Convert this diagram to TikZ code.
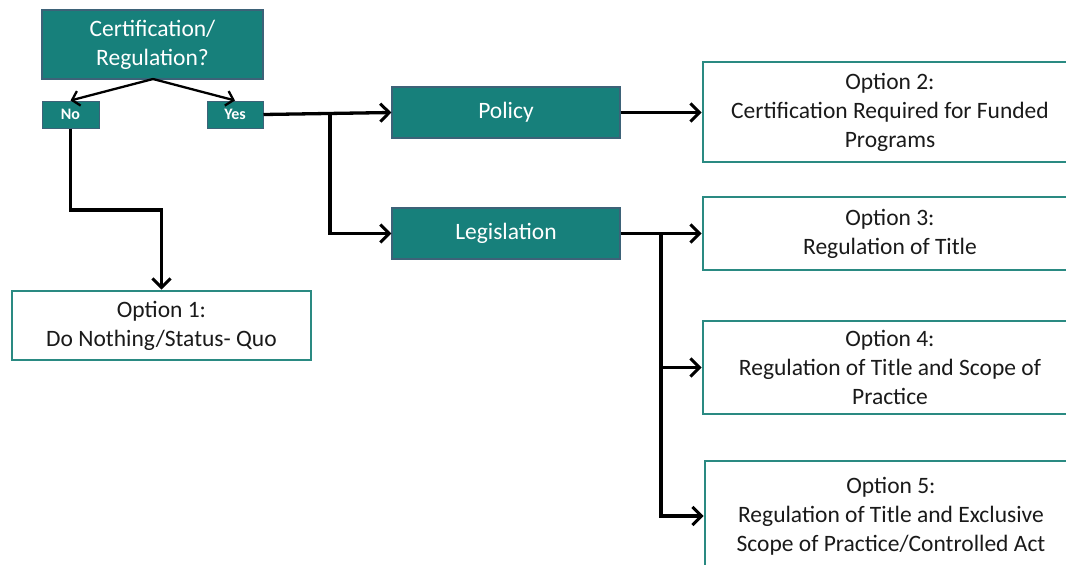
\documentclass[tikz,border=0pt]{standalone}
\usepackage{fontspec}
\setmainfont{Carlito}
\usetikzlibrary{arrows.meta}
\definecolor{teal1}{HTML}{17807B}
\definecolor{tealedge}{HTML}{3D6278}
\definecolor{optedge}{HTML}{2A8A82}
\definecolor{txt}{HTML}{1A1A1A}
\tikzset{
  darkbox/.style={draw=tealedge, line width=1.2pt, fill=teal1, text=white, align=center, inner sep=0pt, font=\fontsize{23.5}{29}\selectfont},
  smallbox/.style={draw=tealedge, line width=1pt, fill=teal1, text=white, inner sep=0pt, font=\fontsize{16}{18}\selectfont\bfseries},
  optbox/.style={draw=optedge, line width=2.8pt, fill=white, text=txt, align=center, inner sep=0pt, font=\fontsize{23.5}{29}\selectfont},
  conn/.style={line width=3.3pt, black},
  arr/.style={conn, -{Straight Barb[length=9pt,width=18pt,line width=3pt]}},
  thinarr/.style={line width=2.3pt, black, -{Straight Barb[length=7pt,width=15pt,line width=2.3pt]}}
}
\begin{document}
\begin{tikzpicture}[x=1pt,y=-1pt]
\useasboundingbox[fill=white] (0,0) rectangle (1066,565);
\begin{scope}
\clip (0,0) rectangle (1066,565);
\node[darkbox, minimum width=221pt, minimum height=69pt] (q) at (152.5,44.5) {Certification/\\Regulation?};
\node[smallbox, minimum width=57pt, minimum height=27pt] (no) at (70.5,114.5) {No};
\node[smallbox, minimum width=56pt, minimum height=27pt] (yes) at (235,114.5) {Yes};
\node[darkbox, minimum width=228pt, minimum height=51pt] (policy) at (506,112.5) {Policy};
\node[darkbox, minimum width=228pt, minimum height=51pt] (legis) at (506,233.5) {Legislation};
\node[optbox, minimum width=374pt, minimum height=100pt] (o2) at (890,112) {Option 2:\\Certification Required for Funded\\Programs};
\node[optbox, minimum width=374pt, minimum height=73pt] (o3) at (890,233.5) {Option 3:\\Regulation of Title};
\node[optbox, minimum width=374pt, minimum height=93pt] (o4) at (890,367.5) {Option 4:\\Regulation of Title and Scope of\\Practice};
\node[optbox, minimum width=372pt, minimum height=110pt] (o5) at (891,516) {Option 5:\\Regulation of Title and Exclusive\\Scope of Practice/Controlled Act};
\node[optbox, minimum width=299pt, minimum height=69pt] (o1) at (161.5,325.5) {Option 1:\\Do Nothing/Status- Quo};

\coordinate (apex) at (153,79);
\draw[thinarr] (apex) -- (no.north);
\draw[thinarr] (apex) -- (yes.north);

\coordinate (nb) at (72,210);
\draw[arr] (no.south) |- (nb) -| (o1.north);

\coordinate (j1) at (330,114.5);
\draw[arr] (yes.east) -- (policy.west);
\draw[arr] (j1) |- (legis.west);
\draw[arr] (policy.east) -- (o2.west |- policy.east);
\draw[arr] (legis.east) -- (o3.west);
\coordinate (j2) at (661,233.5);
\draw[arr] (j2) |- (o4.west);
\draw[arr] (j2) |- (o5.west);
\end{scope}
\end{tikzpicture}
\end{document}
